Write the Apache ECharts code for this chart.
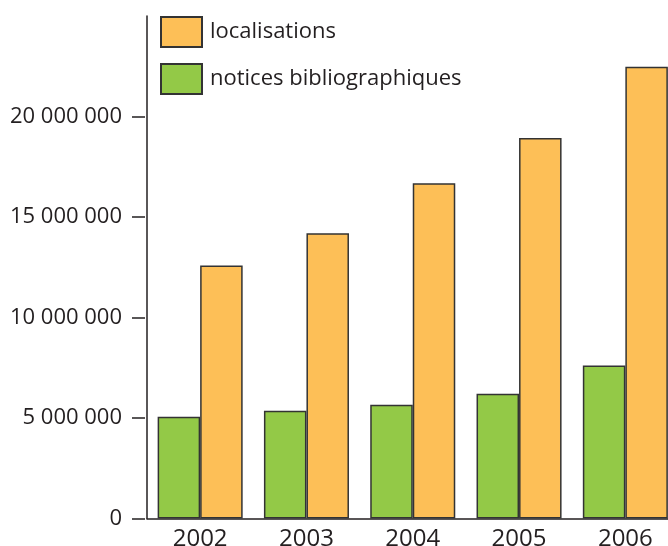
<!DOCTYPE html>
<html>
<head>
<meta charset="utf-8">
<script src="https://cdn.jsdelivr.net/npm/echarts@6/dist/echarts.min.js"></script>
<style>
html,body{margin:0;padding:0;background:#fff;}
#c{width:668px;height:546px;}
</style>
</head>
<body>
<div id="c"></div>
<script>
var years = ['2002', '2003', '2004', '2005', '2006'];
var notices = [5060000, 5360000, 5660000, 6210000, 7610000];
var localisations = [12590000, 14190000, 16680000, 18930000, 22470000];
var yTicks = [0, 5000000, 10000000, 15000000, 20000000];
var seriesNames = ['notices bibliographiques', 'localisations'];

var textColor = '#231f20';
var fontFam = '"Open Sans", "Noto Sans", sans-serif';
function fmt(v) { return String(v).replace(/\B(?=(\d{3})+(?!\d))/g, ' '); }

var chart = echarts.init(document.getElementById('c'), null, {renderer: 'canvas'});
chart.setOption({
  animation: false,
  backgroundColor: '#fff',
  textStyle: {fontFamily: fontFam, color: textColor},
  grid: {left: 147, top: 16, right: -10.5, bottom: 27.5, containLabel: false, outerBoundsMode: 'none'},
  legend: {
    orient: 'vertical', left: 160, top: 16, padding: 0, icon: 'rect',
    itemWidth: 41, itemHeight: 30, itemGap: 15,
    data: [seriesNames[1], seriesNames[0]],
    textStyle: {fontSize: 22, color: textColor, fontFamily: fontFam, padding: [0, 0, 0, 3]}
  },
  xAxis: {
    type: 'category', data: years, boundaryGap: true,
    axisLine: {show: true, lineStyle: {color: textColor, width: 1.5}},
    axisTick: {show: false},
    axisLabel: {fontSize: 24, color: textColor, fontFamily: fontFam, margin: 9},
    splitLine: {show: false}
  },
  yAxis: [{
    type: 'value', min: 0, max: 25000000, interval: 5000000,
    axisLine: {show: true, lineStyle: {color: textColor, width: 1.5}},
    axisTick: {show: false}, axisLabel: {show: false}, splitLine: {show: false}
  }, {
    type: 'value', min: 0, max: 25000000, interval: 5000000, position: 'left', offset: 2,
    axisLine: {show: false},
    axisTick: {show: true, length: 13, customValues: yTicks, lineStyle: {color: textColor, width: 1.5}},
    axisLabel: {show: true, customValues: yTicks, fontSize: 22, color: textColor, fontFamily: fontFam, margin: 23, formatter: fmt},
    splitLine: {show: false}
  }],
  series: [{
    name: seriesNames[0], type: 'bar', data: notices, barGap: 0, barCategoryGap: '20%',
    itemStyle: {color: '#93c947', borderColor: '#333', borderWidth: 1.5}
  }, {
    name: seriesNames[1], type: 'bar', data: localisations, barGap: 0, barCategoryGap: '20%',
    itemStyle: {color: '#fdbf57', borderColor: '#333', borderWidth: 1.5}
  }]
});
</script>
</body>
</html>
